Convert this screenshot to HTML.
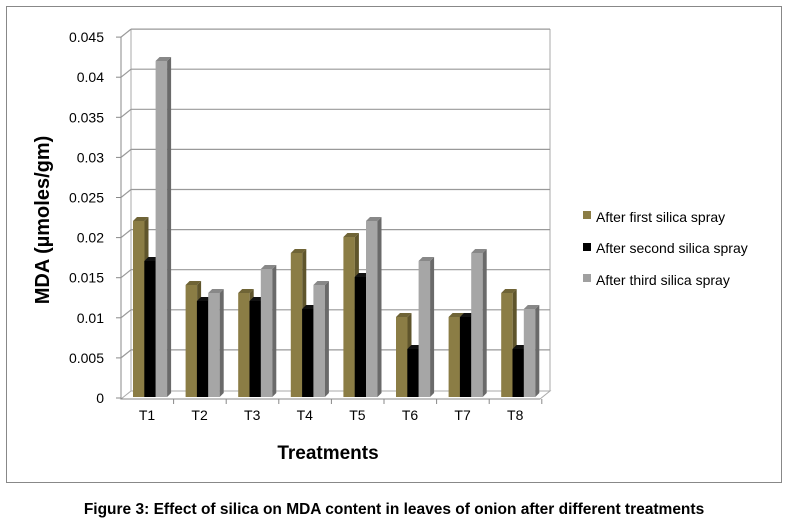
<!DOCTYPE html>
<html><head><meta charset="utf-8"><style>
body{margin:0;background:#fff;}
svg{display:block;font-family:"Liberation Sans",sans-serif;}
</style></head><body>
<svg width="789" height="524" viewBox="0 0 789 524">
<defs>
<g id="dummy"></g>
</defs>
<rect x="6.5" y="6.5" width="775" height="476" fill="#fff" stroke="#888" stroke-width="1"/>
<g id="grid"></g>
<g>
<!-- T1 -->
<g transform="translate(133,221)"><rect width="11.5" height="176" fill="#8b7d45"/><polygon points="11.5,0 15.5,-4 15.5,172 11.5,176" fill="#5f552c"/><polygon points="0,0 4,-4 15.5,-4 11.5,0" fill="#6f6436"/></g>
<g transform="translate(144.3,261)"><rect width="11.5" height="136" fill="#000"/><polygon points="11.5,0 15.5,-4 15.5,132 11.5,136" fill="#000"/><polygon points="0,0 4,-4 15.5,-4 11.5,0" fill="#111"/></g>
<g transform="translate(155.6,61)"><rect width="11.5" height="336" fill="#a6a6a6"/><polygon points="11.5,0 15.5,-4 15.5,332 11.5,336" fill="#6a6a6a"/><polygon points="0,0 4,-4 15.5,-4 11.5,0" fill="#888"/></g>
<!-- T2 -->
<g transform="translate(185.6,285)"><rect width="11.5" height="112" fill="#8b7d45"/><polygon points="11.5,0 15.5,-4 15.5,108 11.5,112" fill="#5f552c"/><polygon points="0,0 4,-4 15.5,-4 11.5,0" fill="#6f6436"/></g>
<g transform="translate(196.9,301)"><rect width="11.5" height="96" fill="#000"/><polygon points="11.5,0 15.5,-4 15.5,92 11.5,96" fill="#000"/><polygon points="0,0 4,-4 15.5,-4 11.5,0" fill="#111"/></g>
<g transform="translate(208.2,293)"><rect width="11.5" height="104" fill="#a6a6a6"/><polygon points="11.5,0 15.5,-4 15.5,100 11.5,104" fill="#6a6a6a"/><polygon points="0,0 4,-4 15.5,-4 11.5,0" fill="#888"/></g>
<!-- T3 -->
<g transform="translate(238.2,293)"><rect width="11.5" height="104" fill="#8b7d45"/><polygon points="11.5,0 15.5,-4 15.5,100 11.5,104" fill="#5f552c"/><polygon points="0,0 4,-4 15.5,-4 11.5,0" fill="#6f6436"/></g>
<g transform="translate(249.5,301)"><rect width="11.5" height="96" fill="#000"/><polygon points="11.5,0 15.5,-4 15.5,92 11.5,96" fill="#000"/><polygon points="0,0 4,-4 15.5,-4 11.5,0" fill="#111"/></g>
<g transform="translate(260.8,269)"><rect width="11.5" height="128" fill="#a6a6a6"/><polygon points="11.5,0 15.5,-4 15.5,124 11.5,128" fill="#6a6a6a"/><polygon points="0,0 4,-4 15.5,-4 11.5,0" fill="#888"/></g>
<!-- T4 -->
<g transform="translate(290.8,253)"><rect width="11.5" height="144" fill="#8b7d45"/><polygon points="11.5,0 15.5,-4 15.5,140 11.5,144" fill="#5f552c"/><polygon points="0,0 4,-4 15.5,-4 11.5,0" fill="#6f6436"/></g>
<g transform="translate(302.1,309)"><rect width="11.5" height="88" fill="#000"/><polygon points="11.5,0 15.5,-4 15.5,84 11.5,88" fill="#000"/><polygon points="0,0 4,-4 15.5,-4 11.5,0" fill="#111"/></g>
<g transform="translate(313.4,285)"><rect width="11.5" height="112" fill="#a6a6a6"/><polygon points="11.5,0 15.5,-4 15.5,108 11.5,112" fill="#6a6a6a"/><polygon points="0,0 4,-4 15.5,-4 11.5,0" fill="#888"/></g>
<!-- T5 -->
<g transform="translate(343.4,237)"><rect width="11.5" height="160" fill="#8b7d45"/><polygon points="11.5,0 15.5,-4 15.5,156 11.5,160" fill="#5f552c"/><polygon points="0,0 4,-4 15.5,-4 11.5,0" fill="#6f6436"/></g>
<g transform="translate(354.7,277)"><rect width="11.5" height="120" fill="#000"/><polygon points="11.5,0 15.5,-4 15.5,116 11.5,120" fill="#000"/><polygon points="0,0 4,-4 15.5,-4 11.5,0" fill="#111"/></g>
<g transform="translate(366,221)"><rect width="11.5" height="176" fill="#a6a6a6"/><polygon points="11.5,0 15.5,-4 15.5,172 11.5,176" fill="#6a6a6a"/><polygon points="0,0 4,-4 15.5,-4 11.5,0" fill="#888"/></g>
<!-- T6 -->
<g transform="translate(396,317)"><rect width="11.5" height="80" fill="#8b7d45"/><polygon points="11.5,0 15.5,-4 15.5,76 11.5,80" fill="#5f552c"/><polygon points="0,0 4,-4 15.5,-4 11.5,0" fill="#6f6436"/></g>
<g transform="translate(407.3,349)"><rect width="11.5" height="48" fill="#000"/><polygon points="11.5,0 15.5,-4 15.5,44 11.5,48" fill="#000"/><polygon points="0,0 4,-4 15.5,-4 11.5,0" fill="#111"/></g>
<g transform="translate(418.6,261)"><rect width="11.5" height="136" fill="#a6a6a6"/><polygon points="11.5,0 15.5,-4 15.5,132 11.5,136" fill="#6a6a6a"/><polygon points="0,0 4,-4 15.5,-4 11.5,0" fill="#888"/></g>
<!-- T7 -->
<g transform="translate(448.6,317)"><rect width="11.5" height="80" fill="#8b7d45"/><polygon points="11.5,0 15.5,-4 15.5,76 11.5,80" fill="#5f552c"/><polygon points="0,0 4,-4 15.5,-4 11.5,0" fill="#6f6436"/></g>
<g transform="translate(459.9,317)"><rect width="11.5" height="80" fill="#000"/><polygon points="11.5,0 15.5,-4 15.5,76 11.5,80" fill="#000"/><polygon points="0,0 4,-4 15.5,-4 11.5,0" fill="#111"/></g>
<g transform="translate(471.2,253)"><rect width="11.5" height="144" fill="#a6a6a6"/><polygon points="11.5,0 15.5,-4 15.5,140 11.5,144" fill="#6a6a6a"/><polygon points="0,0 4,-4 15.5,-4 11.5,0" fill="#888"/></g>
<!-- T8 -->
<g transform="translate(501.2,293)"><rect width="11.5" height="104" fill="#8b7d45"/><polygon points="11.5,0 15.5,-4 15.5,100 11.5,104" fill="#5f552c"/><polygon points="0,0 4,-4 15.5,-4 11.5,0" fill="#6f6436"/></g>
<g transform="translate(512.5,349)"><rect width="11.5" height="48" fill="#000"/><polygon points="11.5,0 15.5,-4 15.5,44 11.5,48" fill="#000"/><polygon points="0,0 4,-4 15.5,-4 11.5,0" fill="#111"/></g>
<g transform="translate(523.8,309)"><rect width="11.5" height="88" fill="#a6a6a6"/><polygon points="11.5,0 15.5,-4 15.5,84 11.5,88" fill="#6a6a6a"/><polygon points="0,0 4,-4 15.5,-4 11.5,0" fill="#888"/></g>
</g>
<text x="49" y="220" transform="rotate(-90 49 220)" text-anchor="middle" font-size="20" font-weight="bold" fill="#000">MDA (µmoles/gm)</text>
<text x="328" y="459" text-anchor="middle" font-size="19" font-weight="bold">Treatments</text>
<rect x="583" y="211" width="8" height="8" fill="#8b7d45"/>
<text x="596" y="222" font-size="14">After first silica spray</text>
<rect x="583" y="243" width="8" height="8" fill="#000"/>
<text x="596" y="253" font-size="14">After second silica spray</text>
<rect x="583" y="274" width="8" height="8" fill="#a0a0a0"/>
<text x="596" y="285" font-size="14">After third silica spray</text>
<text x="394" y="514" text-anchor="middle" font-size="15.5" font-weight="bold">Figure 3: Effect of silica on MDA content in leaves of onion after different treatments</text>
</svg>
<script>
var ns="http://www.w3.org/2000/svg";
function el(p,t,a,txt){var e=document.createElementNS(ns,t);for(var key in a)e.setAttribute(key,a[key]);if(txt!=null)e.textContent=txt;p.appendChild(e);return e;}
var g=document.getElementById('grid');
el(g,'polygon',{points:"121,399 131,391 550,391 540,399",fill:"#fff",stroke:"#aaa"});
el(g,'line',{x1:131,y1:29,x2:131,y2:391,stroke:"#aaa"});
el(g,'line',{x1:550,y1:29,x2:550,y2:391,stroke:"#aaa"});
el(g,'line',{x1:121,y1:37,x2:121,y2:399,stroke:"#888"});
var labs=["0","0.005","0.01","0.015","0.02","0.025","0.03","0.035","0.04","0.045"];
for(var i=0;i<10;i++){
 var y=398-i*40.1;
 if(i>0){el(g,'line',{x1:131,y1:y-8,x2:550,y2:y-8,stroke:"#999","stroke-width":1.2});
 el(g,'line',{x1:121,y1:y,x2:131,y2:y-8,stroke:"#999","stroke-width":1.2});}
 el(g,'line',{x1:116,y1:y,x2:121,y2:y,stroke:"#888"});
 el(g,'text',{x:104,y:y+5,"text-anchor":"end","font-size":14},labs[i]);
}
el(g,'line',{x1:121,y1:399,x2:540,y2:399,stroke:"#888"});
for(var c=0;c<8;c++){
 var cx=121+52.6*c;
 el(g,'line',{x1:cx+52.6,y1:399,x2:cx+52.6,y2:404,stroke:"#888"});
 el(g,'text',{x:cx+26,y:420,"text-anchor":"middle","font-size":14},"T"+(c+1));
}
</script>
</body></html>
